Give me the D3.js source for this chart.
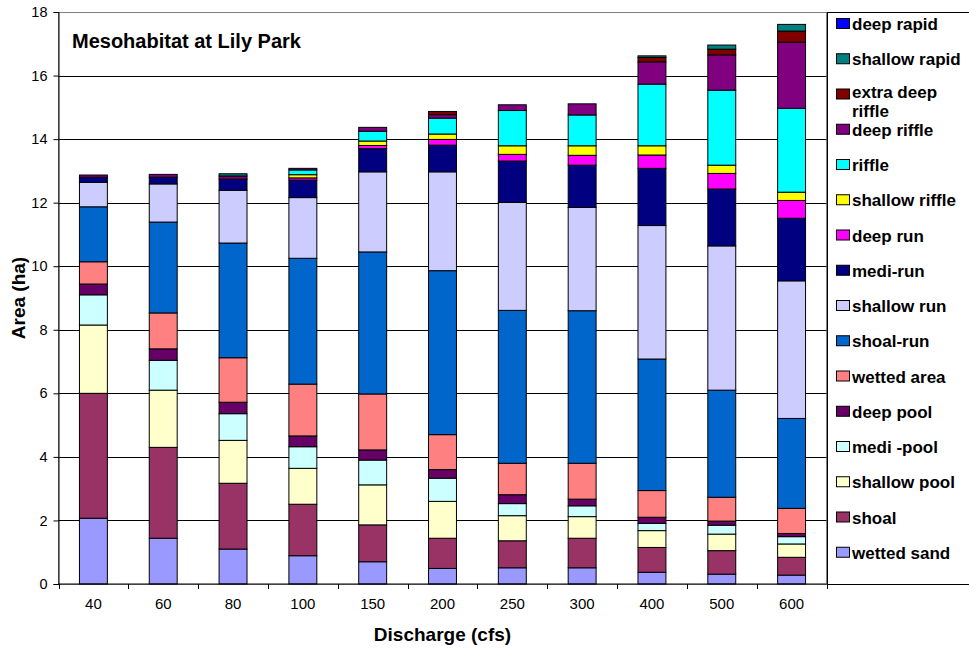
<!DOCTYPE html>
<html>
<head>
<meta charset="utf-8">
<script src="https://cdn.jsdelivr.net/npm/d3@7"></script>
<style>
  html, body { margin: 0; padding: 0; background: #fff; }
  svg { display: block; font-family: Arial, "Liberation Sans", sans-serif; }
</style>
</head>
<body>
<svg id="chart" width="969" height="649"></svg>
<script>
// Discharge levels (cfs)
const categories = ["40", "60", "80", "100", "150", "200", "250", "300", "400", "500", "600"];

// Mesohabitat area (ha) per discharge, stacked bottom to top
const wettedSand      = [2.07, 1.44, 1.10, 0.89, 0.70, 0.49, 0.51, 0.51, 0.37, 0.31, 0.28];
const shoal           = [3.93, 2.86, 2.07, 1.62, 1.16, 0.95, 0.85, 0.93, 0.78, 0.74, 0.56];
const shallowPool     = [2.15, 1.80, 1.35, 1.13, 1.26, 1.16, 0.79, 0.68, 0.53, 0.52, 0.42];
const mediPool        = [0.95, 0.94, 0.84, 0.68, 0.78, 0.73, 0.38, 0.34, 0.23, 0.28, 0.23];
const deepPool        = [0.34, 0.36, 0.36, 0.34, 0.32, 0.27, 0.28, 0.21, 0.19, 0.13, 0.10];
const wettedArea      = [0.70, 1.13, 1.40, 1.63, 1.76, 1.10, 0.99, 1.13, 0.84, 0.75, 0.79];
const shoalRun        = [1.73, 2.86, 3.61, 3.96, 4.47, 5.16, 4.81, 4.80, 4.14, 3.37, 2.83];
const shallowRun      = [0.77, 1.20, 1.66, 1.91, 2.52, 3.11, 3.40, 3.25, 4.20, 4.54, 4.33];
const mediRun         = [0.16, 0.21, 0.35, 0.55, 0.73, 0.84, 1.30, 1.33, 1.80, 1.79, 1.97];
const deepRun         = [0.00, 0.00, 0.00, 0.07, 0.10, 0.18, 0.21, 0.31, 0.42, 0.49, 0.56];
const shallowRiffle   = [0.00, 0.00, 0.00, 0.10, 0.14, 0.17, 0.27, 0.30, 0.29, 0.26, 0.26];
const riffle          = [0.00, 0.00, 0.00, 0.15, 0.31, 0.50, 1.11, 0.97, 1.94, 2.36, 2.64];
const deepRiffle      = [0.07, 0.09, 0.10, 0.05, 0.12, 0.11, 0.18, 0.35, 0.70, 1.11, 2.08];
const extraDeepRiffle = [0.00, 0.00, 0.00, 0.00, 0.00, 0.10, 0.00, 0.00, 0.14, 0.18, 0.35];
const shallowRapid    = [0.00, 0.00, 0.07, 0.00, 0.00, 0.00, 0.00, 0.00, 0.05, 0.13, 0.21];
const deepRapid       = [0.00, 0.00, 0.00, 0.00, 0.00, 0.00, 0.00, 0.00, 0.00, 0.00, 0.00];

const seriesNames = ["wetted sand", "shoal", "shallow pool", "medi -pool", "deep pool", "wetted area",
  "shoal-run", "shallow run", "medi-run", "deep run", "shallow riffle", "riffle",
  "deep riffle", "extra deep riffle", "shallow rapid", "deep rapid"];
const seriesValues = [wettedSand, shoal, shallowPool, mediPool, deepPool, wettedArea,
  shoalRun, shallowRun, mediRun, deepRun, shallowRiffle, riffle,
  deepRiffle, extraDeepRiffle, shallowRapid, deepRapid];
const seriesColors = ["#9999FF", "#993366", "#FFFFCC", "#CCFFFF", "#660066", "#FF8080",
  "#0066CC", "#CCCCFF", "#000080", "#FF00FF", "#FFFF00", "#00FFFF",
  "#800080", "#800000", "#008080", "#0000FF"];

const yTicks = [0, 2, 4, 6, 8, 10, 12, 14, 16, 18];

// Table built for d3.stack
const rows = categories.map((c, i) => {
  const r = { category: c };
  seriesNames.forEach((s, k) => { r[s] = seriesValues[k][i]; });
  return r;
});
const stacked = d3.stack().keys(seriesNames)(rows);

const svg = d3.select("#chart");
const plot = { left: 58.5, right: 826.5, top: 12, bottom: 584 };

const x = d3.scaleBand().domain(categories)
  .range([plot.left, plot.right]).paddingInner(0.6).paddingOuter(0.3);
const y = d3.scaleLinear().domain([0, 18]).range([plot.bottom, plot.top]);

// Plot area frame
svg.append("rect")
  .attr("x", plot.left).attr("y", plot.top + 0.5)
  .attr("width", plot.right - plot.left).attr("height", plot.bottom - plot.top)
  .attr("fill", "#fff").attr("stroke", "#808080").attr("stroke-width", 1);

// Gridlines
svg.append("g").selectAll("line").data(yTicks.filter(t => t > 0 && t < 18)).join("line")
  .attr("x1", plot.left).attr("x2", plot.right)
  .attr("y1", d => Math.round(y(d)) + 0.5).attr("y2", d => Math.round(y(d)) + 0.5)
  .attr("stroke", "#000").attr("stroke-width", 1);

// Stacked bars
const layer = svg.append("g").selectAll("g").data(stacked).join("g")
  .attr("fill", (d, i) => seriesColors[i]);
layer.selectAll("rect").data(d => d.filter(p => p[1] - p[0] > 0)).join("rect")
  .attr("x", d => x(d.data.category))
  .attr("width", x.bandwidth())
  .attr("y", d => y(d[1]))
  .attr("height", d => y(d[0]) - y(d[1]))
  .attr("stroke", "#000").attr("stroke-width", 1);

// Y axis
const yAxis = d3.axisLeft(y).tickValues(yTicks).tickSize(5).tickPadding(6).tickFormat(d3.format("d"));
const gy = svg.append("g").attr("transform", `translate(${plot.left},0)`).call(yAxis);
gy.select(".domain").attr("stroke", "#000");
gy.selectAll(".tick line").attr("stroke", "#000");
gy.selectAll(".tick text").attr("font-size", 14.5).attr("fill", "#000")
  .attr("font-family", "Arial, 'Liberation Sans', sans-serif");

// X axis: ticks sit between categories
const gx = svg.append("g").attr("transform", `translate(0,${plot.bottom})`);
gx.append("line").attr("x1", plot.left).attr("x2", plot.right).attr("stroke", "#000");
const step = x.step();
const boundaries = d3.range(categories.length + 1).map(i => plot.left + i * step);
gx.selectAll(".xt").data(boundaries).join("line").attr("class", "xt")
  .attr("x1", d => Math.round(d) + 0.5).attr("x2", d => Math.round(d) + 0.5)
  .attr("y1", 0).attr("y2", 5).attr("stroke", "#000");
gx.selectAll("text").data(categories).join("text")
  .attr("x", d => x(d) + x.bandwidth() / 2).attr("y", 25)
  .attr("text-anchor", "middle").attr("font-size", 15).attr("fill", "#000")
  .text(d => d);

// Titles
svg.append("text").attr("x", 72).attr("y", 48)
  .attr("font-size", 20).attr("font-weight", "bold").text("Mesohabitat at Lily Park");
svg.append("text").attr("x", (plot.left + plot.right) / 2).attr("y", 641)
  .attr("text-anchor", "middle").attr("font-size", 19).attr("font-weight", "bold")
  .text("Discharge (cfs)");
svg.append("text").attr("transform", `translate(25,${(plot.top + plot.bottom) / 2}) rotate(-90)`)
  .attr("text-anchor", "middle").attr("font-size", 19).attr("font-weight", "bold")
  .text("Area (ha)");

// Legend, listed top series first
const legend = svg.append("g");
legend.append("rect").attr("x", 827.5).attr("y", plot.top + 0.5)
  .attr("width", 200).attr("height", plot.bottom - plot.top)
  .attr("fill", "#fff").attr("stroke", "#000");
const legendItems = seriesNames.map((s, k) => ({ name: s, color: seriesColors[k] })).reverse();
const li = legend.selectAll("g.item").data(legendItems).join("g").attr("class", "item")
  .attr("transform", (d, i) => `translate(836,${24 + i * 35.25})`);
li.append("rect").attr("x", 0.5).attr("y", -5.5).attr("width", 13).attr("height", 10)
  .attr("fill", d => d.color).attr("stroke", "#000");
li.each(function(d) {
  const g = d3.select(this);
  // the longest name wraps onto a second line
  const lines = d.name === "extra deep riffle" ? ["extra deep", "riffle"] : [d.name];
  const y0 = lines.length > 1 ? 3.3 : 6;
  lines.forEach((ln, j) => g.append("text")
    .attr("x", 16).attr("y", y0 + j * 19)
    .attr("font-size", 17).attr("font-weight", "bold").attr("fill", "#000")
    .text(ln));
});
</script>
</body>
</html>
